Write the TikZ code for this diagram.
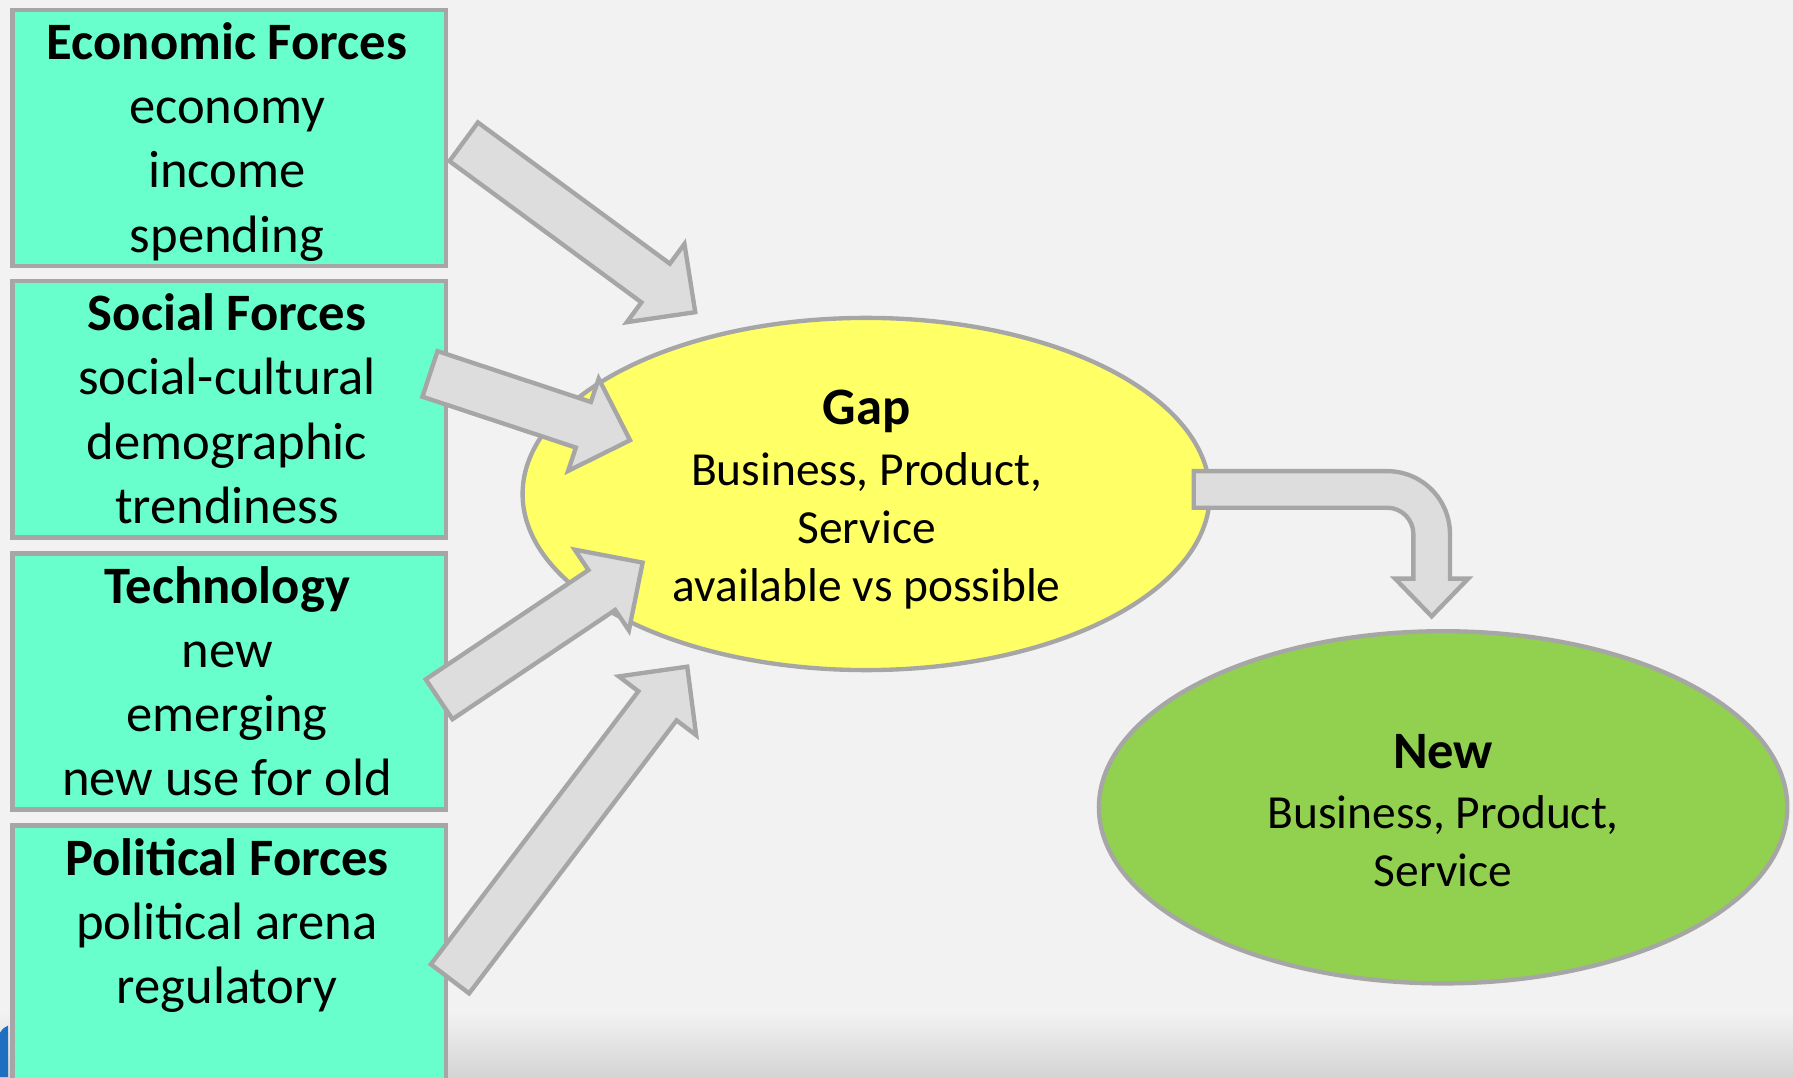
\documentclass[tikz,border=0pt]{standalone}
\usepackage{fontspec}
\setmainfont{Carlito}
\usetikzlibrary{calc,shapes.geometric}
\definecolor{bgc}{HTML}{F2F2F2}
\definecolor{bgdark}{HTML}{D4D4D4}
\definecolor{boxfill}{HTML}{69FFCC}
\definecolor{edgegray}{HTML}{A6A6A6}
\definecolor{gapfill}{HTML}{FFFF66}
\definecolor{newfill}{HTML}{92D050}
\definecolor{arrowfill}{HTML}{DDDDDD}
\definecolor{logoblue}{HTML}{1E6FC0}
\tikzset{
  forcebox/.style={draw=edgegray, fill=boxfill, line width=1.9pt, rectangle, anchor=north west,
    minimum width=189.5pt, minimum height=112pt, inner sep=0pt},
  boxtext/.style={anchor=north, inner sep=0pt, align=center, font=\fontsize{23}{28}\selectfont},
  oval/.style={ellipse, draw=edgegray, line width=1.9pt, inner sep=0pt},
  ovaltext/.style={anchor=north, inner sep=0pt, align=center, font=\fontsize{20.75}{25.25}\selectfont},
  blockarrow/.style={draw=edgegray, fill=arrowfill, line width=1.9pt, line join=miter},
}
\newcommand{\firststrut}{\rule{0pt}{20pt}}
\newcommand{\drawblockarrow}[2]{%
  \coordinate (#2b) at ($(#2)!21.5pt!(#1)$);
  \draw[blockarrow] ($(#1)!10.5pt!90:(#2)$) -- ($(#2b)!10.5pt!90:(#2)$)
    -- ($(#2b)!21.25pt!90:(#2)$) -- (#2) -- ($(#2b)!21.25pt!-90:(#2)$)
    -- ($(#2b)!10.5pt!-90:(#2)$) -- ($(#1)!10.5pt!-90:(#2)$) -- cycle;
}
\begin{document}
\begin{tikzpicture}[x=0.5pt,y=-0.5pt]
\useasboundingbox (0,0) rectangle (1568,942);
\fill[bgc] (0,0) rectangle (1568,942);
\shade[top color=bgc, bottom color=bgdark] (0,885) rectangle (1568,942);
\fill[logoblue] (0,903) .. controls (3,899) .. (7,897) -- (7,942) -- (0,942) -- cycle;

% force boxes
\node[forcebox] (econ) at (9,7) {};
\node[forcebox] (social) at (9,244) {};
\node[forcebox] (tech) at (9,482) {};
\node[forcebox, minimum height=115pt] (polit) at (9,720) {};

\node[boxtext] (econtxt) at (198.5,12) {\firststrut\textbf{Economic Forces}\\economy\\income\\spending};
\node[boxtext] (socialtxt) at (198.5,249) {\firststrut\textbf{Social Forces}\\social-cultural\\demographic\\trendiness};
\node[boxtext] (techtxt) at (198.5,487) {\firststrut\textbf{Technology}\\new\\emerging\\new use for old};
\node[boxtext] (polittxt) at (198.5,725) {\firststrut\textbf{Political Forces}\\political arena\\regulatory};

% ellipses
\node[oval, fill=gapfill, minimum width=300.5pt, minimum height=154pt] (gap) at (757.5,432) {};
\node[oval, fill=newfill, minimum width=301pt, minimum height=154pt] (new) at (1262,706) {};
\node[ovaltext] (gaptxt) at (758,331) {\firststrut{\fontsize{23}{25.25}\selectfont\bfseries Gap}\\[1.5pt]Business, Product,\\Service\\available vs possible};
\node[ovaltext] (newtxt) at (1262,632) {\firststrut{\fontsize{23}{25.25}\selectfont\bfseries New}\\[1pt]Business, Product,\\Service};

% block arrows into the gap
\coordinate (a1t) at (405.5,124); \coordinate (a1h) at (608,273);
\coordinate (a2t) at (376,327);   \coordinate (a2h) at (551,385);
\coordinate (a3t) at (384,611.5); \coordinate (a3h) at (562,492);
\coordinate (a4t) at (393.5,856); \coordinate (a4h) at (601,583);
\drawblockarrow{a1t}{a1h}
\drawblockarrow{a2t}{a2h}
\drawblockarrow{a3t}{a3h}
\drawblockarrow{a4t}{a4h}

% bent arrow from gap to new
\coordinate (a5t) at (1044,428);
\coordinate (a5h) at (1252,539);
\draw[blockarrow] ($(a5t)+(0,-16)$) -- (1213,412) .. controls (1243.4,412) and (1268,436.6) .. (1268,467)
  -- (1268,506) -- (1284,506) -- (a5h) -- (1220,506) -- (1236,506) -- (1236,467)
  .. controls (1236,454.3) and (1225.7,444) .. (1213,444) -- ($(a5t)+(0,16)$) -- cycle;
\end{tikzpicture}
\end{document}
